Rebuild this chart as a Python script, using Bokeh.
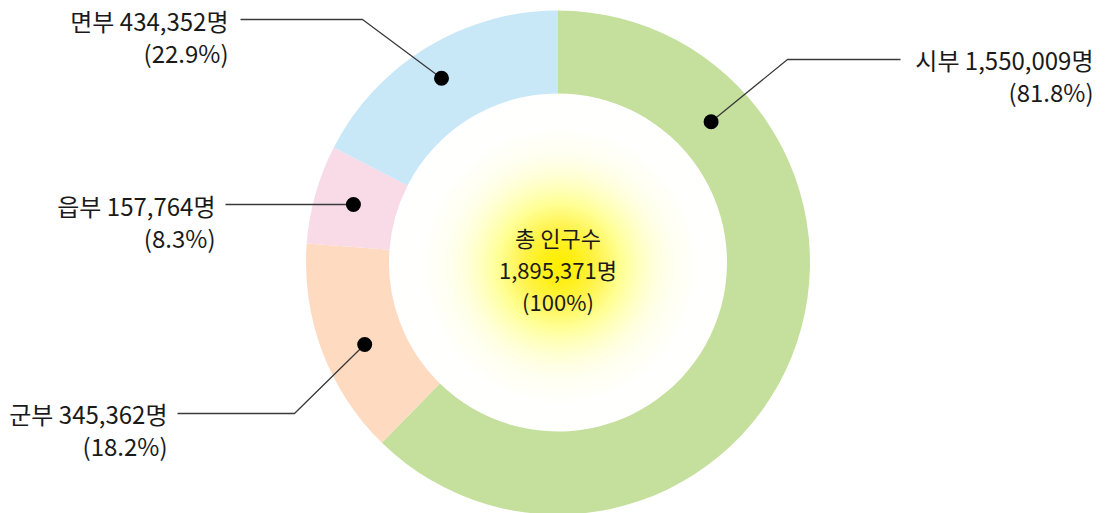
import numpy as np
from bokeh.plotting import figure
from bokeh.models import Range1d
from bokeh.core.properties import value
from bokeh.embed import file_html
from bokeh.resources import INLINE

# ---- data ----
names = ["시부", "군부", "읍부", "면부"]
values = [1550009, 345362, 157764, 434352]
pct_labels = ["(81.8%)", "(18.2%)", "(8.3%)", "(22.9%)"]
center_lines = ["총 인구수", "1,895,371명", "(100%)"]
colors = ["#c5df9c", "#fddac0", "#f8dbe7", "#c8e8f8"]

# ---- layout (page-pixel coordinates; converted below) ----
W, H = 1100, 513
PAGE_H = 513
cx_px, cy_px = 557.5, 262
R_OUT, R_IN = 252, 169
FONT = value("Noto Sans CJK KR")

# per label: dot (angle deg, radius), elbow (px), line end (px), text right x, text y
layout = {
    "시부": dict(dot=(42.6, 208), elbow=(787, 59), end=(900, 59), tx=1093, ty=59),
    "면부": dict(dot=(122.3, 218), elbow=(362, 19), end=(240, 19), tx=228, ty=20),
    "읍부": dict(dot=(164.2, 212.6), elbow=None, end=(225, 204), tx=215, ty=205),
    "군부": dict(dot=(203.0, 210), elbow=(294, 413), end=(177, 413), tx=167, ty=413),
}

def Y(py):
    return PAGE_H - py

p = figure(width=W, height=H, output_backend="svg", toolbar_location=None,
           x_range=Range1d(0, W), y_range=Range1d(Y(H), Y(0)),
           min_border=0, outline_line_color=None)
p.axis.visible = False
p.grid.visible = False
p.background_fill_color = "white"

cx, cy = cx_px, Y(cy_px)

# ---- donut wedges (clockwise from top) ----
vals = np.array(values, dtype=float)
frac = vals / vals.sum()
cum = np.concatenate([[0], np.cumsum(frac)])
ends = np.radians(90 - cum[:-1] * 360)
starts = np.radians(90 - cum[1:] * 360)
n = len(values)
p.annular_wedge(x=[cx] * n, y=[cy] * n, inner_radius=R_IN, outer_radius=R_OUT,
                start_angle=list(starts), end_angle=list(ends),
                fill_color=colors, line_color=None)

# ---- radial yellow glow in center ----
gx, gy = cx + 2, cy - 3
radii = np.arange(R_IN - 2, 1, -2.0)
target = 0.97 * np.exp(-(radii / 66.0) ** 1.8)
alphas = []
prev = 0.0
for o in target:
    a = 1 - (1 - o) / (1 - prev) if o > prev else 0.0
    alphas.append(float(max(0.0, min(1.0, a))))
    prev = max(prev, o)
p.circle(x=[gx] * len(radii), y=[gy] * len(radii), radius=list(radii),
         fill_color="#fff000", fill_alpha=alphas, line_color=None)

# ---- center text ----
for i, t in enumerate(center_lines):
    p.text(x=[cx], y=[Y(236 + 32 * i)], text=[t], text_font=FONT,
           text_font_size="22px", text_align="center", text_baseline="middle",
           text_color="#1a1a1a")

# ---- leader lines, dots, labels ----
for name, v, pct in zip(names, values, pct_labels):
    L = layout[name]
    ang, rr = L["dot"]
    dx = cx + rr * np.cos(np.radians(ang))
    dy = cy + rr * np.sin(np.radians(ang))
    if L["elbow"] is None:
        dy = Y(L["end"][1])
        xs = [dx, L["end"][0]]
        ys = [dy, dy]
    else:
        xs = [dx, L["elbow"][0], L["end"][0]]
        ys = [dy, Y(L["elbow"][1]), Y(L["end"][1])]
    p.line(xs, ys, line_color="#3a3a3a", line_width=1.3)
    p.scatter([dx], [dy], size=15, marker="circle",
              fill_color="black", line_color=None)
    p.text(x=[L["tx"]], y=[Y(L["ty"])], text=[f"{name} {v:,}명"], text_font=FONT,
           text_font_size="24px", text_align="right", text_baseline="middle",
           text_color="#1a1a1a")
    p.text(x=[L["tx"]], y=[Y(L["ty"] + 32)], text=[pct], text_font=FONT,
           text_font_size="24px", text_align="right", text_baseline="middle",
           text_color="#1a1a1a")

open("out.html", "w").write(file_html(p, INLINE))
